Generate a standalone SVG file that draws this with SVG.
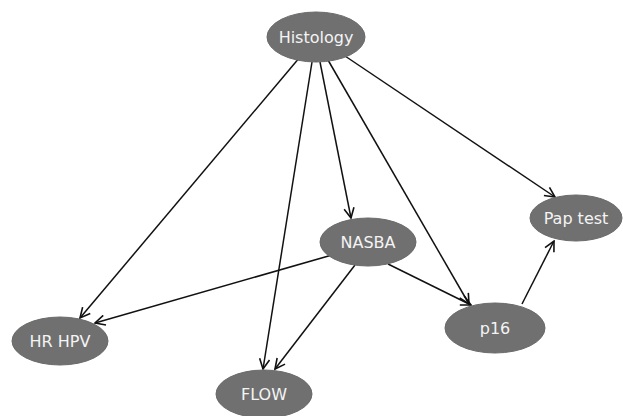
<svg xmlns="http://www.w3.org/2000/svg" width="623" height="416" viewBox="0 0 623 416">
<style>
.node ellipse{fill:#707070;stroke:#6a6a6a;stroke-width:1}
.node text{fill:#f4f4f4;font-family:"DejaVu Sans",Verdana,sans-serif;font-size:16px;text-anchor:middle;dominant-baseline:central}
.edges line{stroke:#111;stroke-width:1.5;marker-end:url(#arr)}
</style>
<defs>
<marker id="arr" viewBox="0 0 12 12" refX="11" refY="6" markerWidth="12" markerHeight="12" markerUnits="userSpaceOnUse" orient="auto">
<polyline points="1,1 11,6 1,11" fill="none" stroke="#111" stroke-width="1.6"/>
</marker>
</defs>
<rect width="623" height="416" fill="#fff"/>
<g class="edges">
<line x1="300" y1="57" x2="80" y2="318"/>
<line x1="312" y1="62" x2="263" y2="369"/>
<line x1="320" y1="62" x2="351" y2="218"/>
<line x1="328" y1="60" x2="469" y2="304"/>
<line x1="345" y1="56" x2="555" y2="197"/>
<line x1="332" y1="255" x2="95" y2="323"/>
<line x1="355" y1="265" x2="275" y2="369"/>
<line x1="388" y1="264" x2="471" y2="305"/>
<line x1="522" y1="304" x2="554" y2="241"/>
</g>
<g id="histology" class="node"><ellipse cx="316" cy="37" rx="49" ry="25"/><text x="316" y="37">Histology</text></g>
<g id="nasba" class="node"><ellipse cx="368" cy="242" rx="48" ry="24"/><text x="368" y="242">NASBA</text></g>
<g id="paptest" class="node"><ellipse cx="576" cy="218" rx="46" ry="23"/><text x="576" y="218">Pap test</text></g>
<g id="hrhpv" class="node"><ellipse cx="60" cy="341" rx="48" ry="24"/><text x="60" y="341">HR HPV</text></g>
<g id="flow" class="node"><ellipse cx="264" cy="394" rx="48" ry="24"/><text x="264" y="394">FLOW</text></g>
<g id="p16" class="node"><ellipse cx="495" cy="328" rx="50" ry="25"/><text x="495" y="328">p16</text></g>
</svg>
